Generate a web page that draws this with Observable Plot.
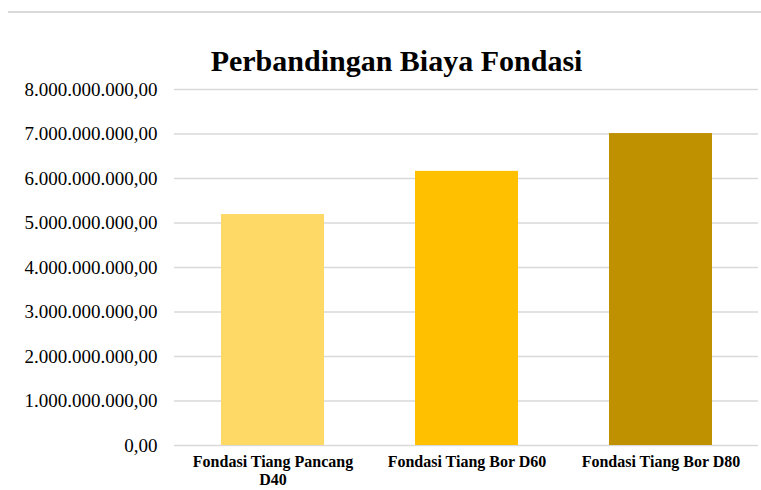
<!DOCTYPE html>
<html>
<head>
<meta charset="utf-8">
<script src="https://cdn.jsdelivr.net/npm/d3@7"></script>
<script src="https://cdn.jsdelivr.net/npm/@observablehq/plot@0.6"></script>
<style>
  html, body { margin: 0; padding: 0; background: #fff; }
  #wrap { position: relative; width: 761px; height: 490px; overflow: hidden; }
  #topline { position: absolute; left: 8px; top: 11px; width: 753px; height: 2px; background: #d9d9d9; }
  #wrap svg text { font-family: 'Liberation Serif', 'Times New Roman', serif; }
</style>
</head>
<body>
<div id="wrap"><div id="topline"></div></div>
<script>
const categories = ["Fondasi Tiang Pancang D40", "Fondasi Tiang Bor D60", "Fondasi Tiang Bor D80"];
const costs = [5190000000, 6160000000, 7010000000];
const barColors = ["#FFD966", "#FFC000", "#BF9000"];
const yTicks = [0, 1e9, 2e9, 3e9, 4e9, 5e9, 6e9, 7e9, 8e9];
const title = "Perbandingan Biaya Fondasi";

const data = categories.map((c, i) => ({ category: c, cost: costs[i] }));
const idFmt = d3.formatLocale({ decimal: ",", thousands: ".", grouping: [3], currency: ["", ""] }).format(",.2f");

const chart = Plot.plot({
  width: 761,
  height: 490,
  marginLeft: 174,
  marginRight: 3,
  marginTop: 89,
  marginBottom: 45,
  style: { fontFamily: "'Liberation Serif', 'Times New Roman', serif", background: "transparent" },
  x: { domain: categories, paddingInner: 0.47, paddingOuter: 0.235, label: null },
  y: { domain: [0, 8e9], label: null },
  color: { domain: categories, range: barColors },
  marks: [
    Plot.gridY(yTicks, { stroke: "#d9d9d9", strokeOpacity: 1, strokeWidth: 1.3 }),
    Plot.barY(data, { x: "category", y: "cost", fill: "category" }),
    Plot.axisY(yTicks, {
      tickSize: 0, tickPadding: 17, tickFormat: idFmt,
      fontSize: 19, fill: "#000", label: null
    }),
    Plot.axisX({
      tickSize: 0, tickPadding: 9,
      tickFormat: d => d.replace("Pancang ", "Pancang\n"),
      fontSize: 16, fontWeight: "bold", fill: "#000", label: null, lineHeight: 1.1
    }),
    Plot.text([title], {
      frameAnchor: "top", dx: -70, dy: -40, fontSize: 30, fontWeight: "bold", fill: "#000"
    })
  ]
});
document.getElementById("wrap").appendChild(chart);
</script>
</body>
</html>
